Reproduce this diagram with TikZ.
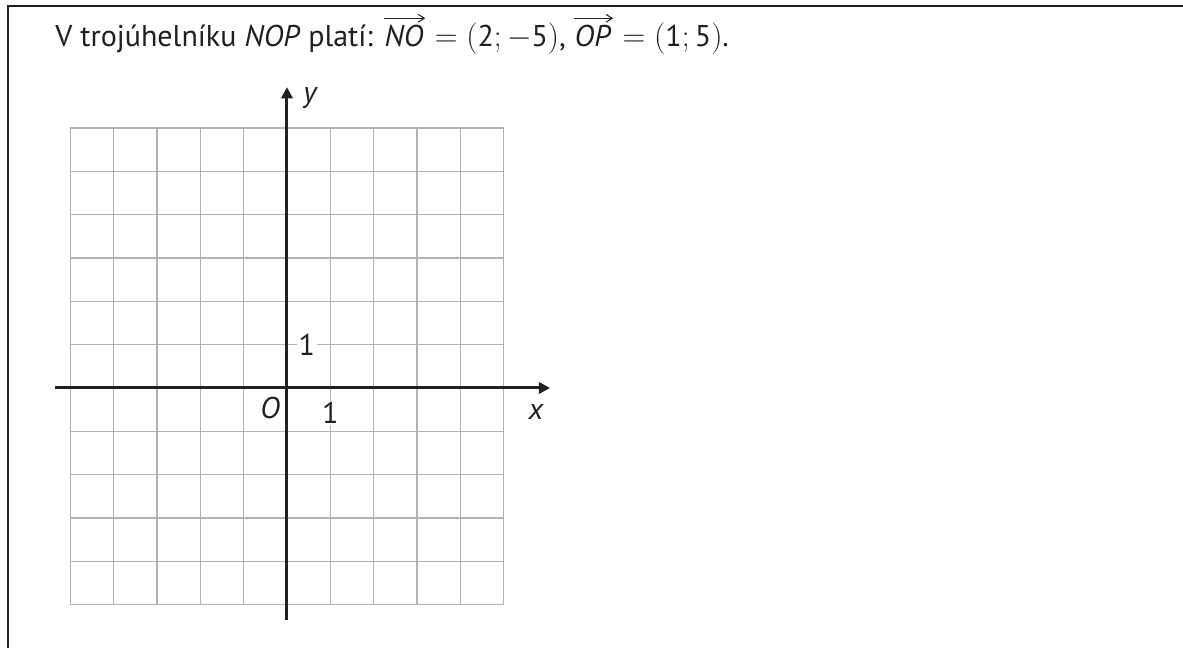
\documentclass[tikz,border=0pt]{standalone}
\usepackage{amsmath}
\usepackage{fontspec}
\setmainfont{PT Sans}
\usepackage{tikz}
\usetikzlibrary{arrows.meta}
\definecolor{inkdark}{RGB}{35,31,32}
\definecolor{gridgray}{RGB}{178,178,178}
\newcommand{\taskfont}{\fontsize{19.7}{23}\selectfont}
% vector with an arrow above it
\newcommand{\vekt}[1]{\tikz[baseline=(vv.base)]{\node[inner sep=0pt] (vv) {\textit{#1}};
  \draw[inkdark, line width=0.7pt, -{Straight Barb[length=1.4mm, width=1.8mm]}]
    ([yshift=4.5pt]vv.north west) -- ([yshift=4.5pt, xshift=1pt]vv.north east);}}
\tikzset{
  gridline/.style={gridgray, line width=0.9pt},
  axisline/.style={inkdark, line width=2pt, -{Triangle[length=2.6mm, width=2.6mm]}},
  ticklabel/.style={inkdark, font=\taskfont, fill=white, inner sep=1pt},
}
\begin{document}
\begin{tikzpicture}
      \useasboundingbox (-6.62,-5.998) rectangle (20.67,8.95);
      % --- frame (open at right and bottom) ---
      \draw[inkdark, line width=1.7pt] (21,8.81) -- (-6.436,8.81) -- (-6.436,-6.5);
      % task text
      \node[inkdark, anchor=base west, inner sep=0pt, font=\taskfont] (task) at (-5.35,7.87)
        {V trojúhelníku \textit{NOP} platí: \vekt{NO}${} = (\text{2};-\text{5})$, \vekt{OP}${} = (\text{1};\text{5})$.};
      % --- grid: 10 x 11 squares ---
      \draw[gridline] (-5,-5) grid (5,6);
      % axes
      \draw[axisline] (-5.35,0) -- (6.07,0);
      \draw[axisline] (0,-5.35) -- (0,6.94);
      % axis labels
      \node[ticklabel] (one y) at (0.46,1)      {1};
      \node[ticklabel] (one x) at (1,-0.58)     {1};
      \node[ticklabel] (orig)  at (-0.39,-0.46) {\textit{O}};
      \node[inkdark, font=\taskfont\itshape] (xlab) at (5.74,-0.55) {x};
      \node[inkdark, font=\taskfont\itshape] (ylab) at (0.53,6.69)  {y};
\end{tikzpicture}
\end{document}
